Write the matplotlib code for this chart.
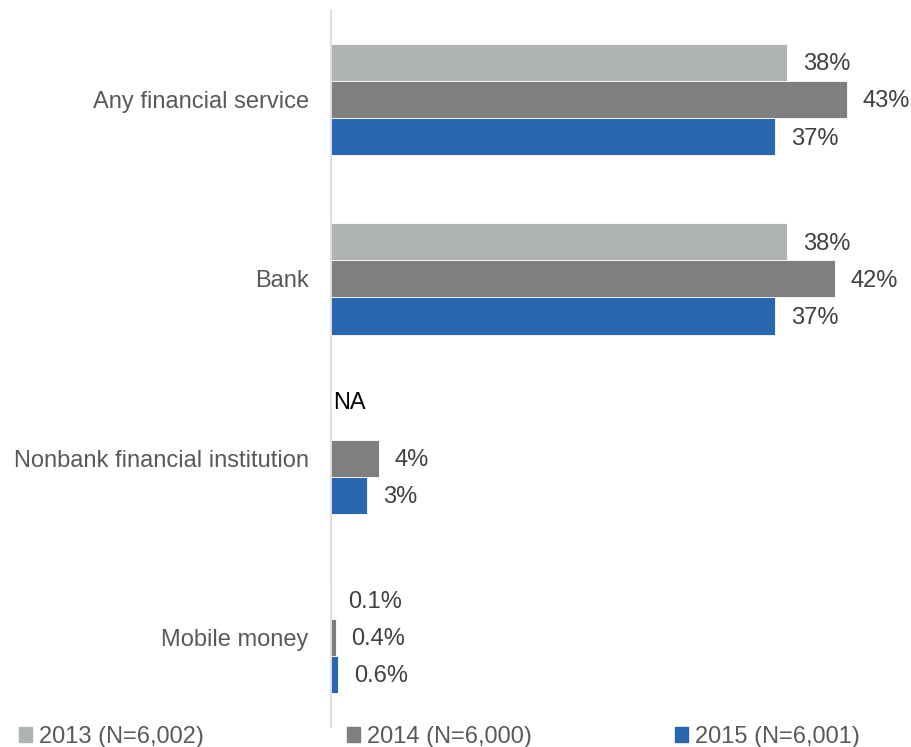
import numpy as np
import matplotlib.pyplot as plt
from matplotlib.patches import Patch

plt.rcParams['font.family'] = ['Liberation Sans', 'DejaVu Sans']

# 数据
categories = ['Any financial service', 'Bank', 'Nonbank financial institution', 'Mobile money']
series_names = ['2013 (N=6,002)', '2014 (N=6,000)', '2015 (N=6,001)']
values_2013 = [38, 38, None, 0.1]
values_2014 = [43, 42, 4, 0.4]
values_2015 = [37, 37, 3, 0.6]
labels_2013 = ['38%', '38%', 'NA', '0.1%']
labels_2014 = ['43%', '42%', '4%', '0.4%']
labels_2015 = ['37%', '37%', '3%', '0.6%']

colors = ['#B0B3B3', '#7F7F7F', '#2966B0']
text_color = '#404040'
fs = 17

fig = plt.figure(figsize=(9.11, 7.47), dpi=100)
ax = fig.add_axes([331 / 911, 20 / 747, 569 / 911, 717 / 747])

y = np.arange(len(categories))
h = 0.207
offsets = [-h, 0, h]
all_values = [values_2013, values_2014, values_2015]
all_labels = [labels_2013, labels_2014, labels_2015]

for k in range(3):
    vals = all_values[k]
    for i, v in enumerate(vals):
        yy = y[i] + offsets[k]
        if v is None:
            # 2013年无数据
            ax.text(0.15, yy - 0.1, all_labels[k][i], va='center', ha='left',
                    fontsize=fs, color='black')
            continue
        ax.barh(yy, v, height=h, color=colors[k], edgecolor='white', linewidth=0.6)
        ax.text(v + 1.3, yy + 0.01, all_labels[k][i], va='center', ha='left',
                fontsize=fs, color=text_color)

ax.set_xlim(0, 47.4)
ax.set_ylim(len(categories) - 0.5, -0.5)
ax.set_yticks(y)
ax.set_yticklabels(categories, fontsize=fs, color='#595959')
ax.tick_params(axis='y', length=0, pad=16)
ax.set_xticks([])
for s in ['top', 'right', 'bottom']:
    ax.spines[s].set_visible(False)
ax.spines['left'].set_color('#D9D9D9')
ax.spines['left'].set_linewidth(1.2)

handles = [Patch(color=c) for c in colors]
fig.legend(handles, series_names, loc='lower left', bbox_to_anchor=(-0.002, -0.03),
           ncol=3, frameon=False, fontsize=fs, handlelength=0.55, handleheight=0.6,
           handletextpad=0.3, columnspacing=6.05, labelcolor='#595959')

fig.savefig('out.png', dpi=100)
